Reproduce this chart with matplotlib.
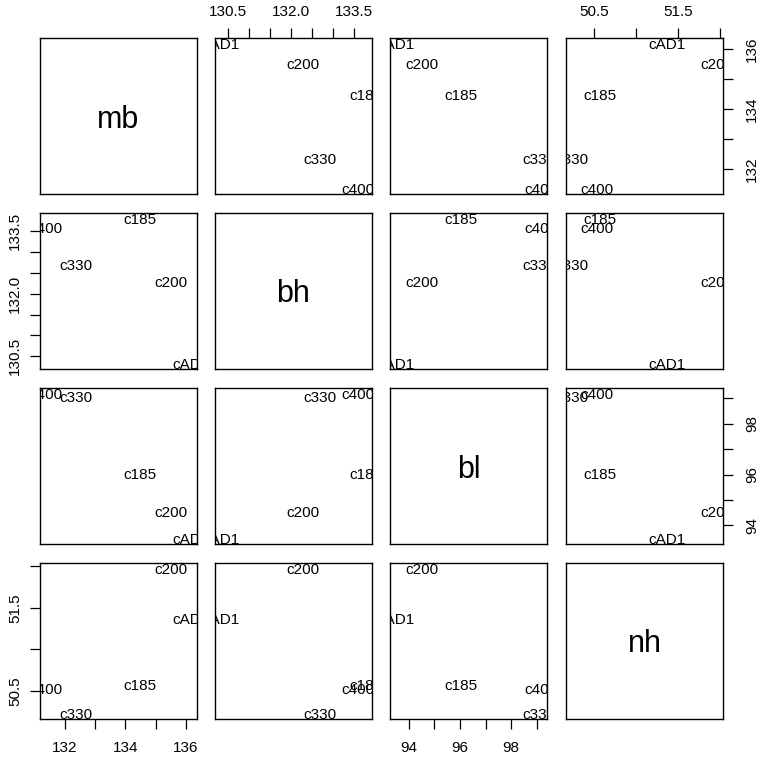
import numpy as np
import matplotlib.pyplot as plt

plt.rcParams['font.family'] = ['Liberation Sans', 'DejaVu Sans']

# mean skull measurements per epoch
epochs = ['c4000BC', 'c3300BC', 'c1850BC', 'c200BC', 'cAD150']
mb = [131.37, 132.37, 134.47, 135.50, 136.17]
bh = [133.60, 132.70, 133.80, 132.30, 130.33]
bl = [99.17, 99.07, 96.03, 94.53, 93.50]
nh = [50.53, 50.23, 50.57, 51.97, 51.37]

var_names = ['mb', 'bh', 'bl', 'nh']
values = [mb, bh, bl, nh]
ticks = [
    [132, 133, 134, 135, 136],
    [130.5, 131.0, 131.5, 132.0, 132.5, 133.0, 133.5],
    [94, 95, 96, 97, 98, 99],
    [50.5, 51.0, 51.5, 52.0],
]
tick_labels = [
    ['132', '', '134', '', '136'],
    ['130.5', '', '', '132.0', '', '', '133.5'],
    ['94', '', '96', '', '98', ''],
    ['50.5', '', '51.5', ''],
]
short = [e[:4] for e in epochs]

W, H = 760, 759
col_x = [40, 215, 390, 566]
row_y = [38, 213, 388, 563]
pw, ph = 157, 156

fig = plt.figure(figsize=(W / 100, H / 100), dpi=100)


def lims(v):
    lo, hi = min(v), max(v)
    d = (hi - lo) * 0.04
    return lo - d, hi + d


n = len(var_names)
for i in range(n):
    for j in range(n):
        ax = fig.add_axes([col_x[j] / W, 1 - (row_y[i] + ph) / H, pw / W, ph / H])
        for s in ax.spines.values():
            s.set_linewidth(1.0)
        ax.set_xlim(lims(values[j]))
        ax.set_ylim(lims(values[i]))
        ax.tick_params(length=7, width=0.9, pad=9, labelsize=11,
                       bottom=False, top=False, left=False, right=False,
                       labelbottom=False, labeltop=False,
                       labelleft=False, labelright=False)
        ax.set_xticks(ticks[j])
        ax.set_xticklabels(tick_labels[j])
        ax.set_yticks(ticks[i])
        ax.set_yticklabels(tick_labels[i], rotation=90, va='center')

        if i == j:
            ax.text(0.5, 0.5, var_names[i], transform=ax.transAxes,
                    ha='center', va='center_baseline', fontsize=22)
        else:
            for k in range(len(epochs)):
                ax.text(values[j][k], values[i][k], short[k], ha='center',
                        va='center_baseline', fontsize=11, clip_on=True)

        # outer axes alternate between sides, as in a pairs plot
        if i == n - 1 and j % 2 == 0:
            ax.tick_params(bottom=True, labelbottom=True)
        if i == 0 and j % 2 == 1:
            ax.tick_params(axis='x', top=True, labeltop=True, pad=6.5)
        if j == 0 and i % 2 == 1:
            ax.tick_params(axis='y', left=True, labelleft=True, pad=6)
        if j == n - 1 and i % 2 == 0:
            ax.tick_params(right=True, labelright=True)

fig.savefig('out.png', dpi=100)
